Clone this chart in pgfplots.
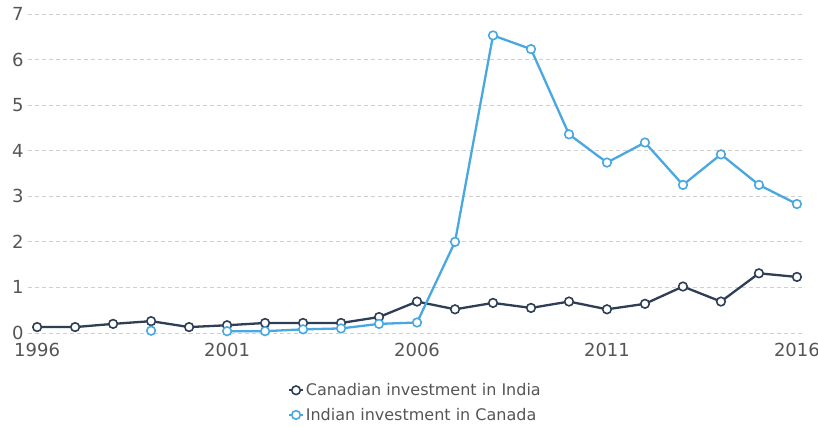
\documentclass[border=0pt]{standalone}
\usepackage{pgfplots}
\pgfplotsset{compat=1.18}
\usepackage{fontspec}
\setmainfont{DejaVu Sans}

\definecolor{navy}{HTML}{2E3E55}
\definecolor{sky}{HTML}{4AA8E0}
\definecolor{gridgray}{HTML}{CFCFCF}
\definecolor{ticktext}{HTML}{555555}

\begin{document}
\begin{tikzpicture}
\begin{axis}[
    scale only axis,
    width=775pt,
    height=319pt,
    xmin=1995.76, xmax=2016.16,
    ymin=0, ymax=7,
    axis line style={draw=none},
    xtick={1996,2001,2006,2011,2016},
    ytick={0,1,...,7},
    ymajorgrids,
    grid style={gridgray, dash pattern=on 4pt off 3pt, line width=0.8pt},
    major tick length=0pt,
    tick style={draw=none},
    /pgf/number format/1000 sep={},
    /pgf/number format/assume math mode=true,
    ticklabel style={font=\fontsize{18}{21}\selectfont, text=ticktext},
    xticklabel style={yshift=-7pt},
    yticklabel style={xshift=-1pt},
    unbounded coords=jump,
    legend style={draw=none, fill=none, at={(0.5,-0.145)}, anchor=north,
        font=\fontsize{16}{19}\selectfont, text=ticktext,
        row sep=7pt, cells={anchor=west}},
    legend image code/.code={
        \draw[#1, mark=none, line width=1.6pt] (0pt,0pt) -- (14pt,0pt);
        \draw[#1, mark=none, fill=white, line width=1.6pt] (7pt,0pt) circle (4.3pt);
    },
    clip=false,
    ]
    \addplot[navy, line width=2.3pt, mark=*, mark size=4.3pt,
        mark options={fill=white, line width=1.6pt}]
      coordinates {
        (1996,0.13) (1997,0.13) (1998,0.20) (1999,0.26) (2000,0.13)
        (2001,0.17) (2002,0.22) (2003,0.22) (2004,0.22) (2005,0.35)
        (2006,0.69) (2007,0.52) (2008,0.66) (2009,0.55) (2010,0.69)
        (2011,0.52) (2012,0.64) (2013,1.02) (2014,0.69) (2015,1.31)
        (2016,1.23)
      };
    \addplot[sky, line width=2.3pt, mark=*, mark size=4.3pt,
        mark options={fill=white, line width=1.6pt}]
      coordinates {
        (1999,0.05) (2000,nan)
        (2001,0.04) (2002,0.04) (2003,0.08) (2004,0.10) (2005,0.20)
        (2006,0.23) (2007,2.00) (2008,6.53) (2009,6.23) (2010,4.36)
        (2011,3.74) (2012,4.18) (2013,3.25) (2014,3.92) (2015,3.25)
        (2016,2.83)
      };
    \legend{Canadian investment in India, Indian investment in Canada}
\end{axis}
\pgfresetboundingbox
\path[use as bounding box] (-28pt,-94pt) rectangle (790pt,333pt);
\end{tikzpicture}
\end{document}
